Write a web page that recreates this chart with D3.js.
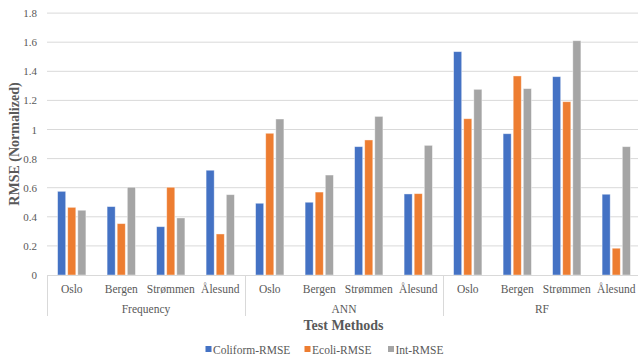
<!DOCTYPE html>
<html>
<head>
<meta charset="utf-8">
<script src="https://cdn.jsdelivr.net/npm/d3@7"></script>
<style>
  html, body { margin: 0; padding: 0; background: #fff; }
  svg { display: block; }
  svg text { font-family: "Liberation Serif", "Times New Roman", serif; }
</style>
</head>
<body>
<svg id="chart" width="638" height="360"></svg>
<script>
// Grouped RMSE results per test method and site
const methods = ["Frequency", "ANN", "RF"];
const sites = ["Oslo", "Bergen", "Strømmen", "Ålesund"];
const seriesNames = ["Coliform-RMSE", "Ecoli-RMSE", "Int-RMSE"];
const seriesColors = ["#4472c4", "#ed7d31", "#a5a5a5"];

// values ordered method by method, site by site
const coliform = [0.575, 0.47, 0.332, 0.72,   0.493, 0.50, 0.882, 0.557,   1.535, 0.971, 1.363, 0.555];
const ecoli    = [0.465, 0.353, 0.603, 0.282, 0.974, 0.57, 0.928, 0.559,   1.074, 1.368, 1.191, 0.184];
const intRmse  = [0.445, 0.603, 0.392, 0.552, 1.072, 0.687, 1.09, 0.891,   1.276, 1.281, 1.61, 0.882];
const yTicks = [0, 0.2, 0.4, 0.6, 0.8, 1, 1.2, 1.4, 1.6, 1.8];

const series = [coliform, ecoli, intRmse];
const cats = [];
methods.forEach(m => sites.forEach(s => cats.push({ key: m + "|" + s, method: m, site: s })));

const FONT = "Liberation Serif, Times New Roman, serif";
const svg = d3.select("#chart").attr("font-family", FONT);
const plotL = 47, plotR = 641, plotT = 13.1, plotB = 275;

const x = d3.scaleBand().domain(cats.map(c => c.key)).range([plotL, plotR]).padding(0);
const inner = d3.scaleBand().domain(seriesNames).range([0, x.bandwidth()]).paddingInner(0.2).paddingOuter(1.05);
const y = d3.scaleLinear().domain([0, 1.8]).range([plotB, plotT]);

// gridlines
svg.append("g").selectAll("line").data(yTicks.filter(t => t > 0)).join("line")
  .attr("x1", plotL).attr("x2", plotR)
  .attr("y1", d => y(d)).attr("y2", d => y(d))
  .attr("stroke", "#d9d9d9").attr("stroke-width", 1);

// y axis labels
const yAxis = d3.axisLeft(y).tickValues(yTicks).tickSize(0).tickPadding(10).tickFormat(d3.format("~g"));
const ya = svg.append("g").attr("transform", `translate(${plotL},0)`).call(yAxis)
  .attr("font-family", FONT);
ya.select(".domain").remove();
ya.selectAll("text").attr("font-size", 11).attr("fill", "#595959");

// bars
const barG = svg.append("g");
seriesNames.forEach((name, si) => {
  barG.append("g").selectAll("rect").data(cats).join("rect")
    .attr("x", (c) => x(c.key) + inner(name))
    .attr("width", inner.bandwidth())
    .attr("y", (c, i) => y(series[si][i]))
    .attr("height", (c, i) => y(0) - y(series[si][i]))
    .attr("fill", seriesColors[si])
    .attr("stroke", "#ffffff").attr("stroke-opacity", 0.5).attr("stroke-width", 0.8);
});

// category axis
const axisG = svg.append("g");
axisG.append("line").attr("x1", plotL).attr("x2", plotR).attr("y1", plotB + 0.5).attr("y2", plotB + 0.5)
  .attr("stroke", "#d9d9d9");
const groupEdges = [0, 4, 8, 12].map(i => plotL + i * x.bandwidth());
axisG.selectAll("line.sep").data(groupEdges).join("line").attr("class", "sep")
  .attr("x1", d => Math.round(d) + 0.5).attr("x2", d => Math.round(d) + 0.5)
  .attr("y1", plotB).attr("y2", 316)
  .attr("stroke", "#d9d9d9");

axisG.selectAll("text.site").data(cats).join("text").attr("class", "site")
  .attr("x", c => x(c.key) + x.bandwidth() / 2)
  .attr("y", 293)
  .attr("text-anchor", "middle")
  .attr("font-size", 11.5).attr("fill", "#595959")
  .text(c => c.site);

axisG.selectAll("text.method").data(methods).join("text").attr("class", "method")
  .attr("x", (m, i) => (groupEdges[i] + groupEdges[i + 1]) / 2)
  .attr("y", 313)
  .attr("text-anchor", "middle")
  .attr("font-size", 11.5).attr("fill", "#595959")
  .text(m => m);

// axis titles
svg.append("text").attr("x", (plotL + plotR) / 2 - 0.5).attr("y", 330)
  .attr("text-anchor", "middle").attr("font-size", 14).attr("font-weight", "bold").attr("fill", "#595959")
  .text("Test Methods");
svg.append("text").attr("transform", `translate(19,${(plotT + plotB) / 2}) rotate(-90)`)
  .attr("text-anchor", "middle").attr("font-size", 14).attr("font-weight", "bold").attr("fill", "#595959")
  .text("RMSE (Normalized)");

// legend
const legendX = [205.5, 304.5, 388];
const lg = svg.append("g");
seriesNames.forEach((name, i) => {
  lg.append("rect").attr("x", legendX[i]).attr("y", 346).attr("width", 6).attr("height", 6).attr("fill", seriesColors[i]);
  lg.append("text").attr("x", legendX[i] + 7.5).attr("y", 353.5)
    .attr("font-size", 11.5).attr("fill", "#595959").text(name);
});
</script>
</body>
</html>
